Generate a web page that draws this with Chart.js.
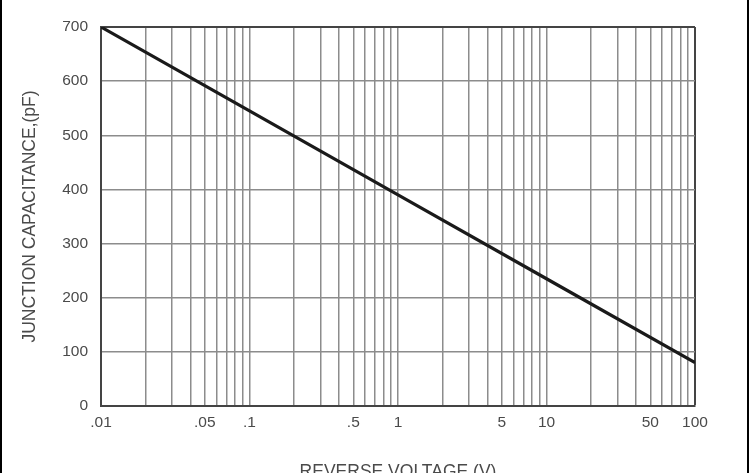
<!DOCTYPE html>
<html>
<head>
<meta charset="utf-8">
<script src="https://cdn.jsdelivr.net/npm/chart.js@4"></script>
<style>
  html, body { margin: 0; padding: 0; background: #fff; overflow: hidden; }
  #wrap { position: relative; width: 751px; height: 473px; overflow: hidden; }
  #frame { position: absolute; left: 0; top: 0; width: 745px; height: 473px;
           border-left: 2px solid #000; border-right: 2px solid #000; pointer-events: none; }
  #box { width: 751px; height: 487px; }
</style>
</head>
<body>
<div id="wrap">
  <div id="box"><canvas id="myChart"></canvas></div>
  <div id="frame"></div>
</div>
<script>
// reverse voltage (V) and junction capacitance (pF)
var voltage = [0.01, 0.1, 1, 10, 100];
var capacitance = [700, 545, 390, 235, 80];

// log grid lines (1..9 per decade) and the labelled ones
var gridValues = [
  0.01, 0.02, 0.03, 0.04, 0.05, 0.06, 0.07, 0.08, 0.09,
  0.1, 0.2, 0.3, 0.4, 0.5, 0.6, 0.7, 0.8, 0.9,
  1, 2, 3, 4, 5, 6, 7, 8, 9,
  10, 20, 30, 40, 50, 60, 70, 80, 90,
  100
];
var xLabelValues = [0.01, 0.05, 0.1, 0.5, 1, 5, 10, 50, 100];
var xLabelText = [".01", ".05", ".1", ".5", "1", "5", "10", "50", "100"];
var yTicks = [0, 100, 200, 300, 400, 500, 600, 700];

var points = [];
for (var i = 0; i < voltage.length; i++) {
  points.push({x: voltage[i], y: capacitance[i]});
}

var font = "'Liberation Sans', Arial, sans-serif";

new Chart("myChart", {
  type: "line",
  data: {
    datasets: [{
      data: points,
      borderColor: "#1a1a1a",
      borderWidth: 3.2,
      pointRadius: 0,
      tension: 0,
      fill: false
    }]
  },
  options: {
    responsive: true,
    maintainAspectRatio: false,
    animation: false,
    layout: { padding: { left: 0, right: 56, top: 27, bottom: 0 } },
    plugins: { legend: { display: false }, tooltip: { enabled: false } },
    scales: {
      x: {
        type: "logarithmic",
        min: 0.01,
        max: 100,
        afterBuildTicks: function(scale) {
          scale.ticks = gridValues.map(function(v) { return {value: v}; });
        },
        afterFit: function(scale) { scale.height = 487 - 406; },
        grid: {
          color: function(ctx) {
            return ctx.tick && ctx.tick.value === 100 ? "#444" : "#8c8c8c";
          },
          lineWidth: function(ctx) {
            return ctx.tick && ctx.tick.value === 100 ? 2 : 1.5;
          },
          drawTicks: false
        },
        border: { color: "#444", width: 2 },
        ticks: {
          autoSkip: false,
          maxRotation: 0,
          padding: 7,
          color: "#4a4a4a",
          font: { family: font, size: 15.5 },
          callback: function(value) {
            var k = xLabelValues.indexOf(value);
            return k >= 0 ? xLabelText[k] : "";
          }
        },
        title: {
          display: true,
          text: "REVERSE VOLTAGE (V)",
          color: "#4a4a4a",
          font: { family: font, size: 17.5 },
          padding: { top: 0, bottom: 4 }
        }
      },
      y: {
        min: 0,
        max: 700,
        afterBuildTicks: function(scale) {
          scale.ticks = yTicks.map(function(v) { return {value: v}; });
        },
        afterFit: function(scale) { scale.width = 101; },
        grid: {
          color: function(ctx) {
            return ctx.tick && ctx.tick.value === 700 ? "#444" : "#8c8c8c";
          },
          lineWidth: function(ctx) {
            return ctx.tick && ctx.tick.value === 700 ? 2 : 1.5;
          },
          drawTicks: false
        },
        border: { color: "#444", width: 2 },
        ticks: {
          padding: 13,
          color: "#4a4a4a",
          font: { family: font, size: 15.5 }
        },
        title: {
          display: true,
          text: "JUNCTION CAPACITANCE,(pF)",
          color: "#4a4a4a",
          font: { family: font, size: 17.5 },
          padding: { top: 20, bottom: 0 }
        }
      }
    }
  }
});
</script>
</body>
</html>
